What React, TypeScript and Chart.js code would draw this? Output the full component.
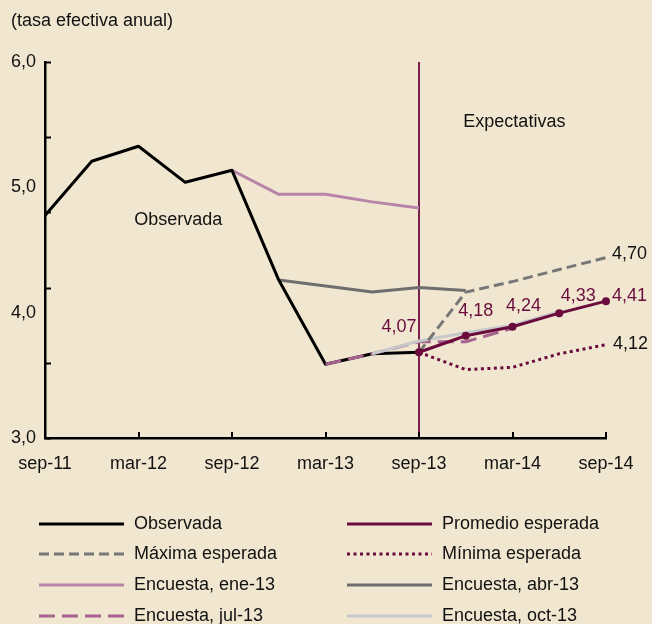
import React, { useEffect, useRef } from "react";
import { Chart, registerables } from "chart.js";

Chart.register(...registerables);

// ---------- data ----------
const categories = [
  "sep-11", "dic-11", "mar-12", "jun-12", "sep-12", "dic-12", "mar-13",
  "jun-13", "sep-13", "dic-13", "mar-14", "jun-14", "sep-14",
];
const observada = [4.98, 5.34, 5.44, 5.2, 5.28, 4.55, 3.99, 4.06, 4.07, null, null, null, null];
const promedioEsperada = [null, null, null, null, null, null, null, null, 4.07, 4.18, 4.24, 4.33, 4.41];
const maximaEsperada = [null, null, null, null, null, null, null, null, 4.07, 4.47, 4.54, 4.62, 4.7];
const minimaEsperada = [null, null, null, null, null, null, null, null, 4.07, 3.955, 3.97, 4.06, 4.12];
const encuestaEne13 = [null, null, null, null, 5.28, 5.12, 5.12, 5.07, 5.03, null, null, null, null];
const encuestaAbr13 = [null, null, null, null, null, 4.55, 4.51, 4.47, 4.5, 4.48, null, null, null];
const encuestaJul13 = [null, null, null, null, null, null, 3.99, 4.06, 4.14, 4.14, 4.23, null, null];
const encuestaOct13 = [null, null, null, null, null, null, null, 4.06, 4.145, 4.2, 4.25, 4.34, null];
const yTickLabels = [3, 4, 5, 6];
const legendOrder = [
  "Observada", "Promedio esperada",
  "Máxima esperada", "Mínima esperada",
  "Encuesta, ene-13", "Encuesta, abr-13",
  "Encuesta, jul-13", "Encuesta, oct-13",
];
const expectationStart = "sep-13";
const unitsLabel = "(tasa efectiva anual)";

// ---------- styles ----------
const BG = "#f1e7d0";
const MAROON = "#6b0b3d";
const FONT = "'Liberation Sans', Arial, Helvetica, sans-serif";
const fmt = (v: number) => v.toFixed(2).replace(".", ",");

const overlayPlugin = {
  id: "overlay",
  beforeDatasetsDraw(chart: any) {
    const { ctx, chartArea, scales } = chart;
    const x = scales.x;
    const xv = x.getPixelForValue(categories.indexOf(expectationStart));
    ctx.save();
    ctx.strokeStyle = MAROON;
    ctx.lineWidth = 1.8;
    ctx.beginPath();
    ctx.moveTo(xv, chartArea.top);
    ctx.lineTo(xv, chartArea.bottom);
    ctx.stroke();
    ctx.restore();
  },
  afterDraw(chart: any) {
    const { ctx, chartArea, scales } = chart;
    const x = scales.x;
    const y = scales.y;
    ctx.save();
    // inward tick marks
    ctx.strokeStyle = "#000";
    ctx.lineWidth = 2;
    y.ticks.forEach((t: any) => {
      const py = Math.round(y.getPixelForValue(t.value)) + 0.5;
      ctx.beginPath();
      ctx.moveTo(chartArea.left, py);
      ctx.lineTo(chartArea.left + 6, py);
      ctx.stroke();
    });
    categories.forEach((_c, i) => {
      if (i % 2 !== 0 || i === 0) return;
      const px = Math.round(x.getPixelForValue(i));
      ctx.beginPath();
      ctx.moveTo(px, chartArea.bottom);
      ctx.lineTo(px, chartArea.bottom - 6);
      ctx.stroke();
    });

    // text annotations
    ctx.font = `18px ${FONT}`;
    ctx.fillStyle = "#111";
    ctx.textBaseline = "middle";
    ctx.textAlign = "center";
    ctx.fillText("Observada", x.getPixelForValue(2.85), y.getPixelForValue(4.95));
    ctx.fillText("Expectativas", x.getPixelForValue(10.04), y.getPixelForValue(5.6));
    ctx.textAlign = "left";
    ctx.fillText(unitsLabel, 11, 21);

    // value labels
    const byLabel = (l: string) => chart.data.datasets.findIndex((d: any) => d.label === l);
    const pIdx = byLabel("Promedio esperada");
    const pMeta = chart.getDatasetMeta(pIdx);
    const offsets: [number, number, CanvasTextAlign][] = [
      [-20, -25, "center"], [10, -25, "center"], [11, -21, "center"], [19, -17, "center"], [6, -5, "left"],
    ];
    ctx.fillStyle = MAROON;
    let k = 0;
    promedioEsperada.forEach((v, i) => {
      if (v == null) return;
      const el = pMeta.data[i];
      const [dx, dy, al] = offsets[k++];
      ctx.textAlign = al;
      ctx.fillText(fmt(v), el.x + dx, el.y + dy);
    });
    ctx.fillStyle = "#111";
    ctx.textAlign = "left";
    const lastMax = maximaEsperada.length - 1;
    const mxMeta = chart.getDatasetMeta(byLabel("Máxima esperada"));
    ctx.fillText(fmt(maximaEsperada[lastMax] as number), mxMeta.data[lastMax].x + 6, mxMeta.data[lastMax].y - 3);
    const mnMeta = chart.getDatasetMeta(byLabel("Mínima esperada"));
    ctx.fillText(fmt(minimaEsperada[lastMax] as number), mnMeta.data[lastMax].x + 7, mnMeta.data[lastMax].y - 1);

    // legend
    const colX = [39, 347];
    const rowY = [524, 554, 585, 616];
    const lineLen = 85;
    legendOrder.forEach((lab, i) => {
      const ds: any = chart.data.datasets[byLabel(lab)];
      const cx = colX[i % 2];
      const cy = rowY[Math.floor(i / 2)];
      ctx.save();
      ctx.strokeStyle = ds.borderColor;
      ctx.lineWidth = ds.borderWidth;
      ctx.setLineDash(ds.borderDash || []);
      ctx.beginPath();
      ctx.moveTo(cx, cy);
      ctx.lineTo(cx + lineLen, cy);
      ctx.stroke();
      ctx.restore();
      ctx.fillStyle = "#111";
      ctx.textAlign = "left";
      ctx.fillText(lab, cx + lineLen + 10, cy);
    });
    ctx.restore();
  },
};

export default function App() {
  const ref = useRef<HTMLCanvasElement | null>(null);
  useEffect(() => {
    document.body.style.margin = "0";
    if (!ref.current) return;
    const common = { tension: 0, pointRadius: 0, pointHoverRadius: 0, borderWidth: 3, borderCapStyle: "butt", borderJoinStyle: "round", fill: false };
    const chart = new Chart(ref.current, {
      type: "line",
      data: {
        labels: categories,
        datasets: [
          { ...common, label: "Promedio esperada", data: promedioEsperada, borderColor: MAROON, backgroundColor: MAROON, pointRadius: 4, pointBackgroundColor: MAROON, pointBorderWidth: 0, order: 0 },
          { ...common, label: "Mínima esperada", data: minimaEsperada, borderColor: MAROON, borderDash: [3, 3.5], order: 1 },
          { ...common, label: "Máxima esperada", data: maximaEsperada, borderColor: "#777777", borderDash: [10, 5], order: 2 },
          { ...common, label: "Encuesta, oct-13", data: encuestaOct13, borderColor: "#c6c8ca", order: 3 },
          { ...common, label: "Encuesta, jul-13", data: encuestaJul13, borderColor: "#a5638f", borderDash: [16, 7], order: 4 },
          { ...common, label: "Observada", data: observada, borderColor: "#000000", order: 5 },
          { ...common, label: "Encuesta, abr-13", data: encuestaAbr13, borderColor: "#6e6e6e", order: 6 },
          { ...common, label: "Encuesta, ene-13", data: encuestaEne13, borderColor: "#b884a8", order: 7 },
        ] as any,
      },
      options: {
        responsive: false,
        animation: false,
        events: [],
        layout: { padding: { top: 62, right: 46, left: 0, bottom: 0 } },
        plugins: { legend: { display: false }, tooltip: { enabled: false }, title: { display: false } },
        scales: {
          x: {
            type: "category",
            offset: false,
            grid: { display: false, drawTicks: false },
            border: { display: true, color: "#000", width: 2.5 },
            ticks: {
              autoSkip: false,
              maxRotation: 0,
              padding: 15,
              color: "#111",
              font: { family: FONT, size: 18 },
              callback: (_v: any, i: number) => (i % 2 === 0 ? categories[i] : ""),
            },
            afterFit: (s: any) => { s.height = 624 - 438; },
          },
          y: {
            type: "linear",
            position: "left",
            min: 3.5,
            max: 6,
            weight: 0,
            ticks: { display: false, stepSize: 0.5 },
            grid: { display: false, drawTicks: false },
            border: { display: true, color: "#000", width: 2.5 },
            afterFit: (s: any) => { s.width = 0; },
          },
          y2: {
            type: "linear",
            position: "left",
            min: yTickLabels[0],
            max: yTickLabels[yTickLabels.length - 1],
            weight: 1,
            grid: { display: false, drawTicks: false },
            border: { display: false },
            ticks: {
              stepSize: 1,
              padding: 9,
              color: "#111",
              font: { family: FONT, size: 18 },
              callback: (v: any) => Number(v).toFixed(1).replace(".", ","),
            },
            afterFit: (s: any) => { s.width = 45; },
          },
        },
      } as any,
      plugins: [overlayPlugin],
    });
    return () => chart.destroy();
  }, []);
  return (
    <div style={{ width: 652, height: 624, background: BG }}>
      <canvas ref={ref} width={652} height={624} style={{ display: "block" }} />
    </div>
  );
}
